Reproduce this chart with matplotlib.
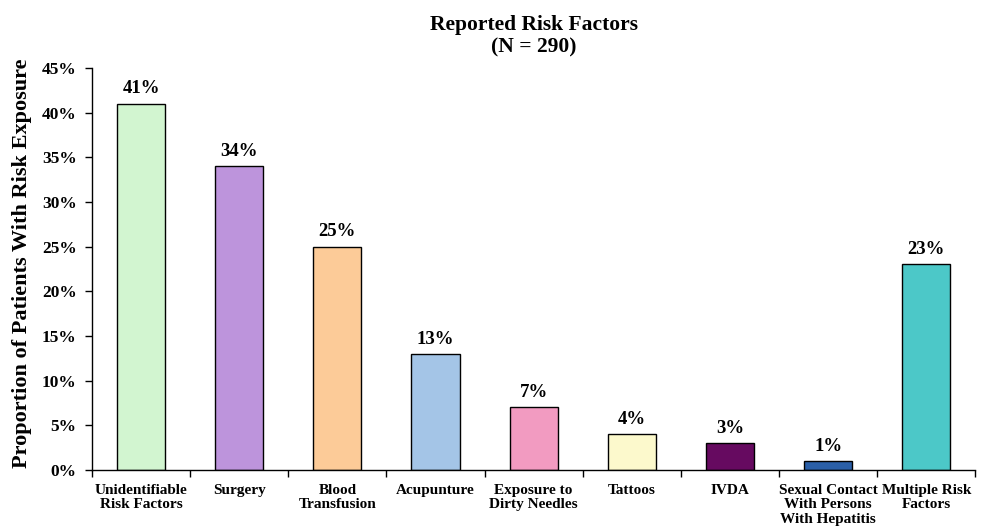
import matplotlib.pyplot as plt
from matplotlib.ticker import FuncFormatter

categories = ['Unidentifiable\nRisk Factors', 'Surgery', 'Blood\nTransfusion', 'Acupunture',
              'Exposure to\nDirty Needles', 'Tattoos', 'IVDA',
              'Sexual Contact\nWith Persons\nWith Hepatitis', 'Multiple Risk\nFactors']
values = [41, 34, 25, 13, 7, 4, 3, 1, 23]
colors = ['#d2f5d0', '#bd94dc', '#fccb98', '#a4c5e7', '#f29bc1', '#fcf9cc', '#660a60', '#2a5fa8', '#4cc8c8']

plt.rcParams['font.family'] = 'Liberation Serif'
plt.rcParams['font.weight'] = 'bold'

fig = plt.figure(figsize=(9.87, 5.31), dpi=100)
ax = fig.add_axes([0.0932, 0.115, 0.895, 0.757])

x = range(len(values))
ax.bar(x, values, width=0.49, color=colors, edgecolor='black', linewidth=1.0, zorder=2)
for i, v in enumerate(values):
    ax.text(i, v + 0.7, f'{v}%', ha='center', va='bottom', fontsize=13.5, fontweight='bold')

ax.set_xlim(-0.5, len(values) - 0.5)
ax.set_ylim(0, 45)
ax.set_yticks(range(0, 46, 5))
ax.yaxis.set_major_formatter(FuncFormatter(lambda v, p: f'{int(v)}%'))
ax.set_xticks([i - 0.5 for i in range(len(values) + 1)])
ax.set_xticklabels([])
ax.set_xticks(list(x), minor=True)
ax.set_xticklabels(categories, minor=True, fontsize=11, fontweight='bold', linespacing=1.15)
ax.tick_params(axis='x', which='minor', length=0, pad=10)
ax.tick_params(axis='x', which='major', direction='out', length=5, width=1)
ax.tick_params(axis='y', direction='out', length=5, width=1, labelsize=12.5, pad=6)
for lbl in ax.get_yticklabels():
    lbl.set_fontweight('bold')

for s in ['top', 'right']:
    ax.spines[s].set_visible(False)
ax.spines['left'].set_linewidth(1.0)
ax.spines['bottom'].set_linewidth(1.0)

ax.set_ylabel('Proportion of Patients With Risk Exposure', fontsize=16, fontweight='bold')
ax.yaxis.set_label_coords(-0.068, 0.515)
ax.set_title('Reported Risk Factors\n(N = 290)', fontsize=15.5, fontweight='bold', pad=11, linespacing=1.2)

fig.savefig('out.png', dpi=100)
